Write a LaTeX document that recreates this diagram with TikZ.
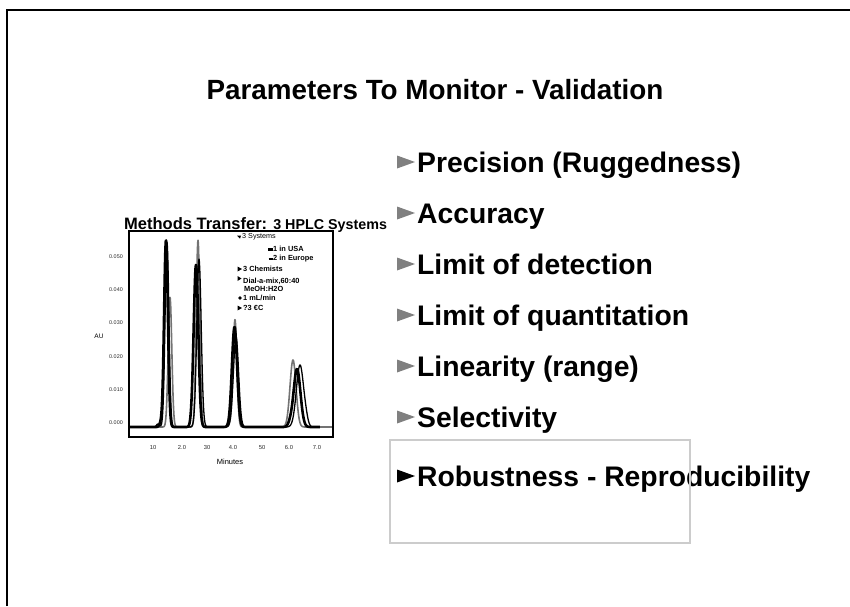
\documentclass[tikz,border=0pt]{standalone}
\usepackage{fontspec}
\setmainfont{Liberation Sans}
\pgfmathdeclarefunction{pk}{3}{\pgfmathparse{exp(-min(20,0.5*((#1-#2)/#3)^2))}}
\begin{document}
\begin{tikzpicture}[x=1pt,y=-1pt,
  item/.style={anchor=west, inner sep=0pt, text height=20pt, text depth=0pt,
    font=\fontsize{28.3}{30}\selectfont\bfseries},
  bulgray/.style={fill=black!50},
  bulblack/.style={fill=black},
  leg/.style={anchor=west, inner sep=0pt, font=\fontsize{7.4}{8}\selectfont\bfseries},
  ytick/.style={inner sep=0pt, text=black!85, font=\fontsize{5.4}{6}\selectfont},
  xtick/.style={inner sep=0pt, text=black!85, font=\fontsize{5.8}{6}\selectfont},
  legmark/.style={fill=black}]
\useasboundingbox (0,0) rectangle (850,606);
% frame
\draw[line width=2pt] (7,606) -- (7,10) -- (850,10);
% title
\node[anchor=base, inner sep=0pt, font=\fontsize{27.8}{30}\selectfont\bfseries] (title) at (435,99) {Parameters To Monitor - Validation};
% list
\node[item] (p1) at (417,162) {Precision (Ruggedness)};
\node[item] (p2) at (417,213) {Accuracy};
\node[item] (p3) at (417,264) {Limit of detection};
\node[item] (p4) at (417,315) {Limit of quantitation};
\node[item] (p5) at (417,366) {Linearity (range)};
\node[item] (p6) at (417,417) {Selectivity};
\node[item] (p7) at (417,476) {Robustness - Reproducibility};
\foreach \n in {p1,p2,p3,p4,p5,p6}{
  \fill[bulgray] (\n.west) ++(-20,-6.5) -- ++(18,6.5) -- ++(-18,6.5) -- cycle;}
\fill[bulblack] (p7.west) ++(-20,-6.5) -- ++(18,6.5) -- ++(-18,6.5) -- cycle;
\draw[black!20, line width=1.5pt] (390,440) rectangle (690,543);
% chart
\node[anchor=base west, inner sep=0pt, font=\bfseries] (ctitle) at (124,229)
  {{\fontsize{16.5}{18}\selectfont Methods Transfer: }{\fontsize{14.3}{16}\selectfont 3 HPLC Systems}};
\draw[black!55, line width=1.6pt, line join=round] plot[domain=129:333, samples=500]
  (\x, {427 - 130*pk(\x,170,1.8) - 187*pk(\x,198,1.8) - 107*pk(\x,235,1.9) - 67*pk(\x,293,3.0) - 4*pk(\x,231,2)});
\draw[black, line width=1.3pt, line join=round] plot[domain=129:318, samples=500]
  (\x, {427 - 185*pk(\x,167,1.9) - 168*pk(\x,199,2.2) - 90*pk(\x,236,2.6) - 62*pk(\x,300,3.6) - 3*pk(\x,158,1.5) - 5*pk(\x,306,2)});
\draw[black, line width=2.6pt, line join=round] plot[domain=129:320, samples=500]
  (\x, {427 - 187*pk(\x,166,1.9) - 162*pk(\x,196,2.3) - 100*pk(\x,234.5,2.6) - 58*pk(\x,297,3.4) - 4*pk(\x,161,1.5) - 3*pk(\x,192,1.5) - 3*pk(\x,290,2)});
\draw[line width=2pt] (129,231) rectangle (333,437);
% y labels
\foreach \v/\yy in {0.050/257,0.040/290,0.030/323,0.020/357,0.010/390,0.000/423}{
  \node[ytick] at (116,\yy) {\v};}
\node[inner sep=0pt, font=\fontsize{6.5}{7}\selectfont] (au) at (99,336) {AU};
% x labels
\foreach \v/\xx in {10/153,2.0/182,30/207,4.0/233,50/262,6.0/289,7.0/317}{
  \node[xtick] at (\xx,447) {\v};}
\node[inner sep=0pt, font=\fontsize{7.5}{8}\selectfont] (xl) at (230,462) {Minutes};
% legend
\node[leg, font=\fontsize{7.2}{8}\selectfont] (l1) at (242,237) {3 Systems};
\node[leg] (l2) at (273,249) {1 in USA};
\node[leg] (l3) at (273,259) {2 in Europe};
\node[leg] (l4) at (243,269) {3 Chemists};
\node[leg] (l5) at (243,281) {Dial-a-mix,60:40};
\node[leg] (l6) at (244,288.5) {MeOH:H2O};
\node[leg] (l7) at (243,298) {1 mL/min};
\node[leg] (l8) at (243,308) {?3 €C};
\fill[legmark] (l1.west) ++(-5,-1.5) -- ++(4,0) -- ++(-1,3) -- cycle;
\fill[legmark] (l2.west) ++(-5,-1.5) rectangle ++(5,3);
\draw[line width=1.2pt] (l3.west) ++(-4.5,0) -- ++(4.5,0);
\fill[legmark] (l4.west) ++(-5.5,-2.5) -- ++(4.5,2.5) -- ++(-4.5,2.5) -- cycle;
\fill[legmark] (l5.west) ++(-5.5,-5) -- ++(4,2.5) -- ++(-4,2.5) -- cycle;
\fill[legmark] (l7.west) ++(-3,0) circle (1.8);
\fill[legmark] (l8.west) ++(-5.5,-2.5) -- ++(4.5,2.5) -- ++(-4.5,2.5) -- cycle;
\end{tikzpicture}
\end{document}
